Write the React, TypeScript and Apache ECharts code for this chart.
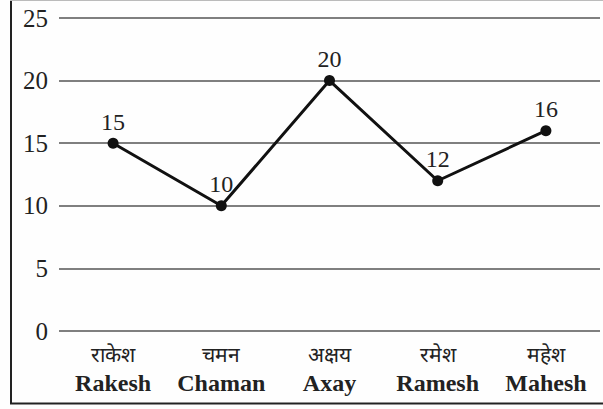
import React, { useEffect, useRef } from "react";
import * as echarts from "echarts";

const hindiNames = ["राकेश", "चमन", "अक्षय", "रमेश", "महेश"];
const englishNames = ["Rakesh", "Chaman", "Axay", "Ramesh", "Mahesh"];
const values = [15, 10, 20, 12, 16];
const yTicks = [0, 5, 10, 15, 20, 25];

const FONT = "Times New Roman";

export default function App() {
  const ref = useRef<HTMLDivElement>(null);
  useEffect(() => {
    if (!ref.current) return;
    const chart = echarts.init(ref.current, null, { renderer: "svg" });
    chart.setOption({
      animation: false,
      backgroundColor: "#fefefe",
      textStyle: { fontFamily: FONT },
      grid: { left: 59, right: 3, top: 18, bottom: 78 },
      xAxis: [
        {
          type: "category",
          data: hindiNames,
          position: "bottom",
          axisLine: { show: false },
          axisTick: { show: false },
          axisLabel: { margin: 13, interval: 0, fontFamily: FONT, fontSize: 21, color: "#222" },
        },
        {
          type: "category",
          data: englishNames,
          position: "bottom",
          offset: 0,
          axisLine: { show: false },
          axisTick: { show: false },
          axisLabel: {
            margin: 40,
            interval: 0,
            fontFamily: FONT,
            fontSize: 24,
            fontWeight: "bold",
            color: "#222",
          },
        },
      ],
      yAxis: {
        type: "value",
        min: yTicks[0],
        max: yTicks[yTicks.length - 1],
        interval: 5,
        axisLine: { show: false },
        axisTick: { show: false },
        axisLabel: { margin: 11, fontFamily: FONT, fontSize: 25, color: "#222" },
        splitLine: { lineStyle: { color: "#555", width: 1.5 } },
      },
      series: [
        {
          type: "line",
          xAxisIndex: 0,
          data: values,
          symbol: "circle",
          symbolSize: 11,
          itemStyle: { color: "#111" },
          lineStyle: { color: "#111", width: 3 },
          label: {
            show: true,
            position: "top",
            distance: 4,
            fontFamily: FONT,
            fontSize: 24,
            color: "#222",
          },
        },
      ],
      graphic: [
        { type: "line", shape: { x1: 11, y1: 0, x2: 11, y2: 404 }, style: { stroke: "#222", lineWidth: 2 } },
        { type: "line", shape: { x1: 10, y1: 403.5, x2: 603, y2: 403.5 }, style: { stroke: "#222", lineWidth: 2 } },
        { type: "line", shape: { x1: 10, y1: 0.5, x2: 603, y2: 0.5 }, style: { stroke: "#bbb", lineWidth: 1 } },
      ],
    });
    return () => chart.dispose();
  }, []);
  return (
    <>
      <style>{`#chart-box svg text, #chart-box svg tspan { font-family: "Liberation Serif", "Times New Roman", serif !important; }`}</style>
      <div
        id="chart-box"
        ref={ref}
        style={{ position: "fixed", left: 0, top: 0, width: 603, height: 409, fontFamily: "'Liberation Serif', serif" }}
      />
    </>
  );
}
